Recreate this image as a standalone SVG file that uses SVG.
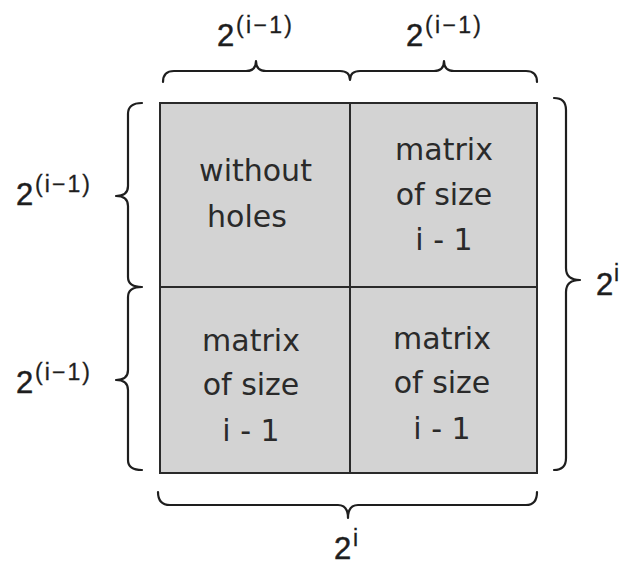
<svg xmlns="http://www.w3.org/2000/svg" width="619" height="567" viewBox="0 0 619 567">
<style>
.cell{fill:#d3d3d3;stroke:#2a2a2a;stroke-width:2}
.ct{font-family:"DejaVu Sans",sans-serif;font-size:30px;fill:#2a2a2a;text-anchor:middle}
.brace{fill:none;stroke:#1e1e1e;stroke-width:2.2;stroke-linecap:round;stroke-linejoin:round}
.base{font-family:"Liberation Sans",Arial,sans-serif;font-size:31px;fill:#1e1e1e;stroke:#1e1e1e;stroke-width:0.5}
.sup{font-family:"Liberation Sans",Arial,sans-serif;font-size:23px;fill:#1e1e1e;stroke:#1e1e1e;stroke-width:0.3}
</style>
<rect width="619" height="567" fill="#ffffff"/>
<g id="cell-top-left">
<rect class="cell" x="160" y="103" width="190" height="184"/>
<text class="ct" x="255.5" y="181">without</text>
<text class="ct" x="247" y="227">holes</text>
</g>
<g id="cell-top-right">
<rect class="cell" x="350" y="103" width="187" height="184"/>
<text class="ct" x="444" y="160">matrix</text>
<text class="ct" x="444" y="205">of size</text>
<text class="ct" x="444" y="250">i - 1</text>
</g>
<g id="cell-bottom-left">
<rect class="cell" x="160" y="287" width="190" height="186"/>
<text class="ct" x="251" y="351">matrix</text>
<text class="ct" x="251" y="395">of size</text>
<text class="ct" x="251" y="441">i - 1</text>
</g>
<g id="cell-bottom-right">
<rect class="cell" x="350" y="287" width="187" height="186"/>
<text class="ct" x="442" y="349">matrix</text>
<text class="ct" x="442" y="393">of size</text>
<text class="ct" x="442" y="439">i - 1</text>
</g>
<g id="connectors">
<path class="brace" d="M163,82 Q163,71 174,71 L246,71 Q256,71 256,61 Q256,71 266,71 L340,71 Q350,71 350,80 Q350,71 360,71 L434,71 Q444,71 444,61 Q444,71 454,71 L526,71 Q537,71 537,82"/>
<path class="brace" d="M142,103 Q128,103 128,114 L128,186 Q128,196 116,196 Q128,196 128,206 L128,277 Q128,287 142,287 Q128,287 128,297 L128,370 Q128,380 116,380 Q128,380 128,390 L128,460 Q128,470 142,470"/>
<path class="brace" d="M554,98 Q566,98 566,110 L566,268 Q566,280 580,280 Q566,280 566,292 L566,458 Q566,470 554,470"/>
<path class="brace" d="M158,492 Q158,505 170,505 L338,505 Q348,505 348,518 Q348,505 358,505 L526,505 Q537,505 537,492"/>
</g>
<g id="label-top-1">
<text class="base" x="217" y="46">2</text>
<text class="sup" x="236" y="33" textLength="56" lengthAdjust="spacing">(i−1)</text>
</g>
<g id="label-top-2">
<text class="base" x="406" y="46">2</text>
<text class="sup" x="425" y="33" textLength="56" lengthAdjust="spacing">(i−1)</text>
</g>
<g id="label-left-1">
<text class="base" x="16" y="205">2</text>
<text class="sup" x="35" y="192" textLength="55" lengthAdjust="spacing">(i−1)</text>
</g>
<g id="label-left-2">
<text class="base" x="16" y="393">2</text>
<text class="sup" x="35" y="380" textLength="55" lengthAdjust="spacing">(i−1)</text>
</g>
<g id="label-right">
<text class="base" x="596" y="295">2</text>
<text class="sup" x="614" y="281">i</text>
</g>
<g id="label-bottom">
<text class="base" x="334" y="559">2</text>
<text class="sup" x="353" y="546">i</text>
</g>
</svg>
